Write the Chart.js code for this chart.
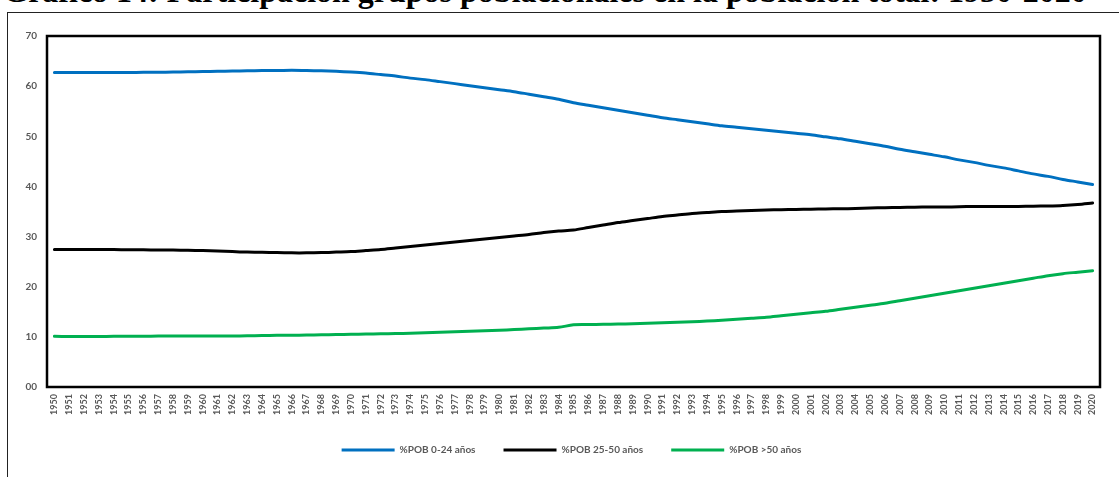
<!DOCTYPE html>
<html>
<head>
<meta charset="utf-8">
<script src="https://cdn.jsdelivr.net/npm/chart.js@4.4.1/dist/chart.umd.min.js"></script>
<style>
  html, body { margin: 0; padding: 0; background: #fff; overflow: hidden; }
  #wrap { position: relative; width: 1119px; height: 477px; overflow: hidden; }
  #title {
    position: absolute; left: 0; width: 1090px; top: -25px;
    font-family: "Liberation Serif", "Times New Roman", serif;
    font-weight: bold; font-size: 32px; line-height: 32px;
    text-align: center; color: #000; white-space: nowrap;
  }
  #frame {
    position: absolute; left: 7px; top: 12px; width: 1200px; height: 600px;
    border: 1.5px solid #222; box-sizing: border-box;
  }
  #chart { position: absolute; left: 0; top: 0; }
</style>
</head>
<body>
<div id="wrap">
  <div id="title">Gráfico 14: Participación grupos poblacionales en la población total: 1950-2020</div>
  <div id="frame"></div>
  <canvas id="chart" width="1119" height="477"></canvas>
</div>
<script>
const years = [];
for (let y = 1950; y <= 2020; y++) years.push(String(y));

// % población 0-24 años
const pob0a24 = [
  62.7, 62.7, 62.7, 62.7, 62.7, 62.7, 62.75, 62.75, 62.8, 62.85,
  62.9, 62.95, 63.0, 63.05, 63.1, 63.1, 63.15, 63.1, 63.05, 62.95,
  62.8, 62.6, 62.3, 62.0, 61.6, 61.3, 60.9, 60.5, 60.1, 59.7,
  59.3, 58.9, 58.4, 57.9, 57.4, 56.7, 56.2, 55.7, 55.2, 54.7,
  54.2, 53.7, 53.3, 52.9, 52.5, 52.1, 51.8, 51.5, 51.2, 50.9,
  50.6, 50.3, 49.9, 49.5, 49.0, 48.5, 48.0, 47.4, 46.9, 46.4,
  45.9, 45.3, 44.8, 44.2, 43.7, 43.1, 42.5, 42.0, 41.4, 40.9,
  40.4
];

// % población 25-50 años
const pob25a50 = [
  27.4, 27.4, 27.4, 27.4, 27.4, 27.35, 27.35, 27.3, 27.3, 27.25,
  27.2, 27.1, 27.0, 26.9, 26.85, 26.8, 26.75, 26.75, 26.8, 26.9,
  27.0, 27.2, 27.4, 27.7, 28.0, 28.3, 28.6, 28.9, 29.2, 29.5,
  29.8, 30.1, 30.4, 30.8, 31.1, 31.3, 31.8, 32.3, 32.8, 33.2,
  33.6, 34.0, 34.3, 34.6, 34.8, 35.0, 35.1, 35.2, 35.3, 35.35,
  35.4, 35.45, 35.5, 35.55, 35.6, 35.7, 35.75, 35.8, 35.85, 35.9,
  35.9, 35.95, 36.0, 36.0, 36.0, 36.0, 36.05, 36.1, 36.2, 36.4,
  36.7
];

// % población >50 años
const pobMas50 = [
  10.1, 10.05, 10.05, 10.05, 10.1, 10.1, 10.1, 10.15, 10.15, 10.15,
  10.15, 10.15, 10.15, 10.2, 10.25, 10.3, 10.3, 10.35, 10.4, 10.45,
  10.5, 10.55, 10.6, 10.65, 10.7, 10.8, 10.9, 11.0, 11.1, 11.2,
  11.3, 11.45, 11.6, 11.75, 11.9, 12.4, 12.45, 12.5, 12.55, 12.6,
  12.7, 12.8, 12.9, 13.0, 13.15, 13.3, 13.5, 13.7, 13.9, 14.2,
  14.5, 14.8, 15.1, 15.5, 15.9, 16.3, 16.7, 17.2, 17.7, 18.2,
  18.7, 19.2, 19.7, 20.2, 20.7, 21.2, 21.7, 22.2, 22.6, 22.9,
  23.2
];

const labelFont = { family: 'Lato, "Open Sans", sans-serif', weight: 'bold' };

// marco negro alrededor del área de trazado
const plotBox = {
  id: 'plotBox',
  beforeDatasetsDraw(chart) {
    const a = chart.chartArea;
    const ctx = chart.ctx;
    ctx.save();
    ctx.strokeStyle = '#000';
    ctx.lineWidth = 2.5;
    ctx.strokeRect(a.left, a.top, a.right - a.left, a.bottom - a.top);
    ctx.restore();
  }
};

// la leyenda queda un poco a la derecha del centro
const legendShift = {
  id: 'legendShift',
  afterLayout(chart) {
    chart.legend.left += 18;
    chart.legend.right += 18;
  }
};

const ctx = document.getElementById('chart').getContext('2d');
new Chart(ctx, {
  type: 'line',
  data: {
    labels: years,
    datasets: [
      { label: '%POB 0-24 años', data: pob0a24, borderColor: '#0070C0', backgroundColor: '#0070C0', borderWidth: 3 },
      { label: '%POB 25-50 años', data: pob25a50, borderColor: '#000000', backgroundColor: '#000000', borderWidth: 3 },
      { label: '%POB >50 años', data: pobMas50, borderColor: '#00B050', backgroundColor: '#00B050', borderWidth: 3 }
    ]
  },
  options: {
    responsive: false,
    animation: false,
    layout: { padding: { left: 7, right: 19, top: 36, bottom: 12 } },
    elements: {
      line: { tension: 0.3, borderCapStyle: 'round' },
      point: { radius: 0, hoverRadius: 0 }
    },
    plugins: {
      legend: {
        position: 'bottom',
        labels: {
          usePointStyle: true,
          pointStyle: 'line',
          pointStyleWidth: 53,
          padding: 28,
          color: '#595959',
          font: { ...labelFont, size: 10 }
        }
      },
      tooltip: { enabled: false }
    },
    scales: {
      x: {
        offset: true,
        grid: { display: false, drawTicks: false },
        border: { display: false },
        afterFit(scale) { scale.height = 30; },
        ticks: {
          autoSkip: false,
          minRotation: 90,
          maxRotation: 90,
          padding: 7,
          color: '#595959',
          font: { ...labelFont, size: 9 }
        }
      },
      y: {
        min: 0,
        max: 70,
        grid: { display: false, drawTicks: false },
        border: { display: false },
        afterFit(scale) { scale.width = 40; },
        ticks: {
          stepSize: 10,
          padding: 10,
          color: '#595959',
          font: { ...labelFont, size: 10 },
          callback: v => String(v).padStart(2, '0')
        }
      }
    }
  },
  plugins: [plotBox, legendShift]
});
</script>
</body>
</html>
